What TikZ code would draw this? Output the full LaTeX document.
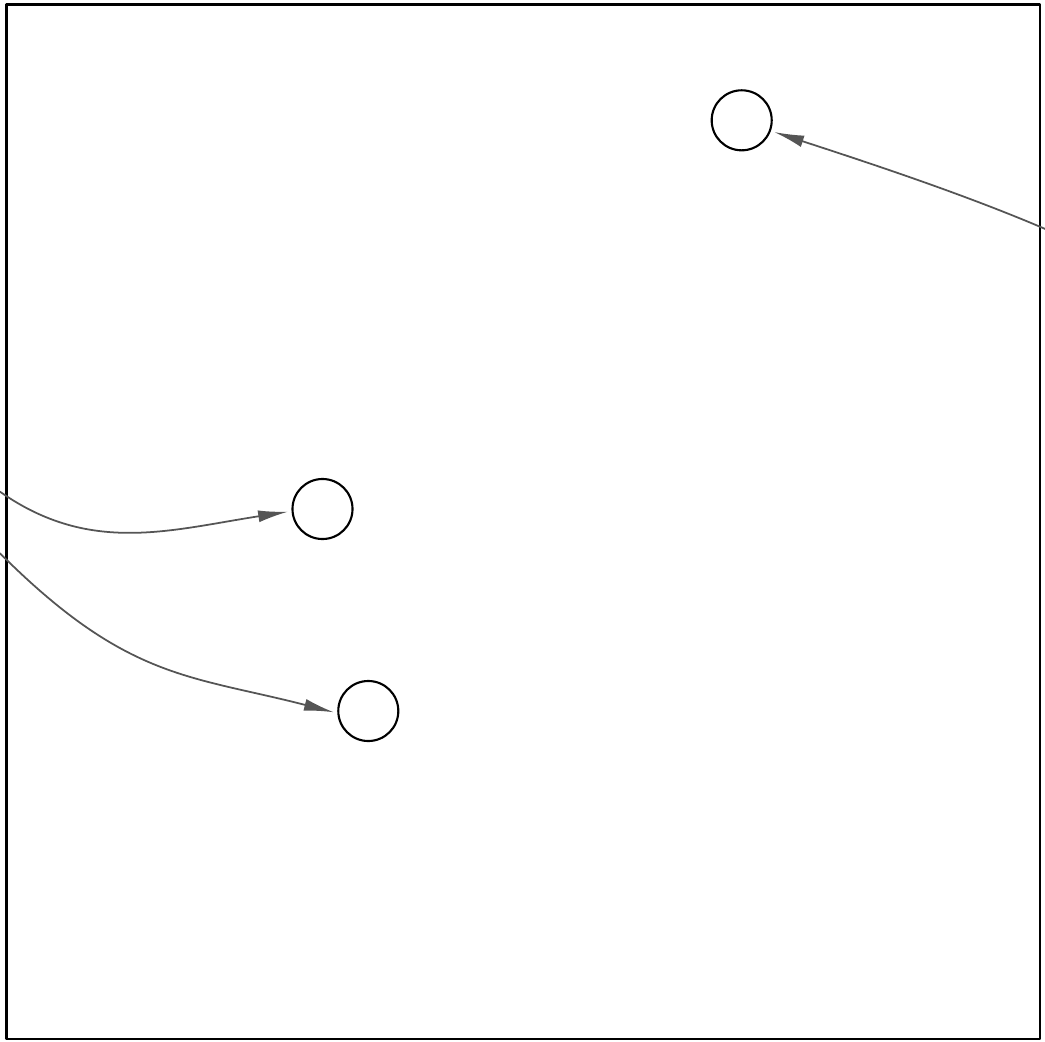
\documentclass[tikz,border=0pt]{standalone}
\usetikzlibrary{arrows.meta}
\definecolor{edgegray}{HTML}{555555}
\begin{document}
\begin{tikzpicture}[x=0.01cm,y=-0.01cm,line cap=round,line join=round,
  blob/.style={circle,draw,line width=0.6pt,minimum size=0.6cm,inner sep=0pt},
  link/.style={draw=edgegray,line width=0.5pt,-{Latex[length=8.5pt,width=3.4pt]},shorten >=1pt}]
  \useasboundingbox (0,0) rectangle (1045,1042);
  \draw[line width=0.65pt] (6.5,4.5) rectangle (1040,1039);
  \node[blob] (c1) at (741.7,120.3) {};
  \node[blob] (c2) at (322.5,509) {};
  \node[blob] (c3) at (368.3,711) {};
  \coordinate (in1) at (1046,229.3);
  \coordinate (in2) at (0,491.7);
  \coordinate (in3) at (0,553.3);
  \draw[link] (in1) .. controls (963.3,193.7) and (860.7,160.2) .. (c1.340);
  \draw[link] (in2) .. controls (90,555) and (170,530) .. (c2.184);
  \draw[link] (in3) .. controls (127,680) and (189.5,675.2) .. (c3.184);
\end{tikzpicture}
\end{document}
